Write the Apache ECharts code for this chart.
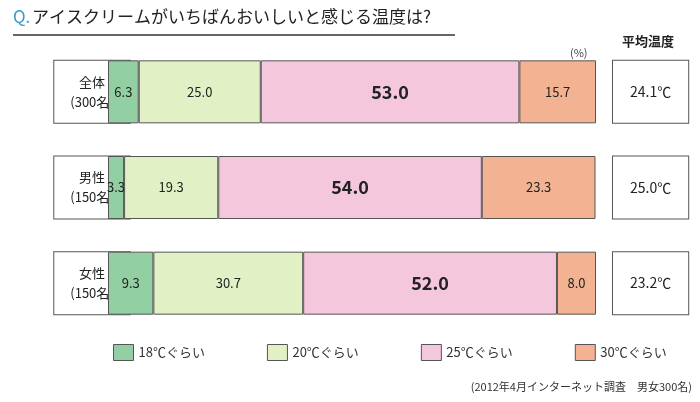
<!DOCTYPE html>
<html><head><meta charset="utf-8">
<script src="https://cdn.jsdelivr.net/npm/echarts@6/dist/echarts.min.js"></script>
<style>html,body{margin:0;background:#fff}#c{width:700px;height:402px}</style>
</head><body><div id="c"></div>
<script>
const groups = ['全体\n(300名)', '男性\n(150名)', '女性\n(150名)'];
const averages = ['24.1℃', '25.0℃', '23.2℃'];
const seriesNames = ['18℃ぐらい', '20℃ぐらい', '25℃ぐらい', '30℃ぐらい'];
const values = [
    [6.3, 3.3, 9.3],
    [25.0, 19.3, 30.7],
    [53.0, 54.0, 52.0],
    [15.7, 23.3, 8.0],
];
const colors = ['#92cfa2', '#e2f0c6', '#f5c7dd', '#f3b292'];
const font = '"Noto Sans CJK JP", sans-serif';

const chart = echarts.init(document.getElementById('c'));
const boxStyle = { backgroundColor: '#fff', borderColor: '#555', borderWidth: 1, color: '#222', fontFamily: font };

chart.setOption({
    animation: false,
    grid: { left: 108, right: 104, top: 44, bottom: 71 },
    xAxis: { type: 'value', min: 0, max: 100, show: false },
    yAxis: [
        {
            type: 'category', inverse: true, data: groups,
            axisLine: { show: false }, axisTick: { show: false },
            axisLabel: Object.assign({ margin: 16, fontSize: 13, lineHeight: 20, align: 'center', padding: [11, 16] }, boxStyle),
        },
        {
            type: 'category', inverse: true, data: averages, position: 'right',
            axisLine: { show: false }, axisTick: { show: false },
            axisLabel: Object.assign({ margin: 17, fontSize: 14, lineHeight: 20, padding: [21, 17] }, boxStyle),
        },
    ],
    legend: {
        left: 108, top: 339, itemGap: 62, itemWidth: 20, itemHeight: 16, icon: 'rect',
        data: seriesNames,
        itemStyle: { borderColor: '#555', borderWidth: 1 },
        textStyle: { fontSize: 13, color: '#333', fontFamily: font },
    },
    graphic: [
        { type: 'text', left: 13, top: 8, style: { text: 'Q.', fill: '#3a9ad0', fontSize: 17, fontFamily: font } },
        { type: 'text', left: 32, top: 8, style: { text: 'アイスクリームがいちばんおいしいと感じる温度は?', fill: '#222', fontSize: 17, fontFamily: font } },
        { type: 'line', shape: { x1: 13, y1: 35, x2: 455, y2: 35 }, style: { stroke: '#666', lineWidth: 2 } },
        { type: 'text', left: 570, top: 47, style: { text: '(%)', fill: '#444', fontSize: 11, fontFamily: font } },
        { type: 'text', left: 622, top: 35, style: { text: '平均温度', fill: '#222', fontSize: 13, fontWeight: 'bold', fontFamily: font } },
        { type: 'text', right: 8, top: 381, style: { text: '(2012年4月インターネット調査　男女300名)', fill: '#333', fontSize: 11, fontFamily: font } },
    ],
    series: values.map((vals, i) => ({
        name: seriesNames[i],
        type: 'bar',
        stack: 'all',
        barWidth: 63,
        data: vals,
        itemStyle: { color: colors[i], borderColor: '#555', borderWidth: 1 },
        label: {
            show: true,
            formatter: p => p.value.toFixed(1),
            fontSize: i === 2 ? 18 : 13,
            fontWeight: i === 2 ? 'bold' : 'normal',
            color: '#222',
            fontFamily: font,
        },
    })),
});
</script></body></html>
